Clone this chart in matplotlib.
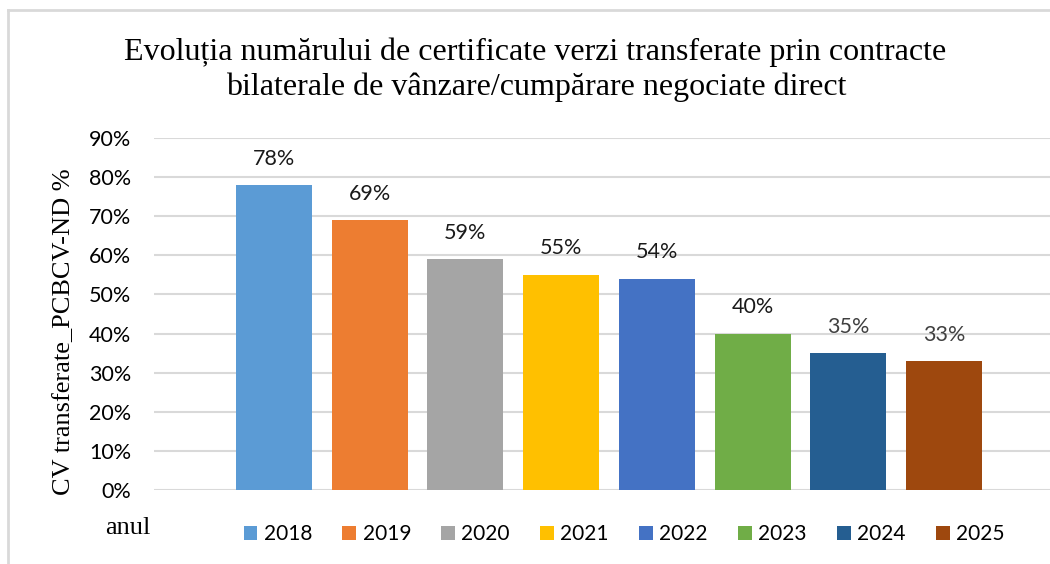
import matplotlib
matplotlib.use("Agg")
import matplotlib.pyplot as plt
from matplotlib.patches import Patch
from matplotlib.lines import Line2D
from matplotlib.ticker import FuncFormatter

# date
ani = ["2018", "2019", "2020", "2021", "2022", "2023", "2024", "2025"]
valori = [0.78, 0.69, 0.59, 0.55, 0.54, 0.40, 0.35, 0.33]
culori = ["#5B9BD5", "#ED7D31", "#A5A5A5", "#FFC000",
          "#4472C4", "#70AD47", "#255E91", "#9E480E"]
culori_etichete = ["#1a1a1a"] * 6 + ["#404040"] * 2

W, H = 1050, 564
fig = plt.figure(figsize=(W / 100, H / 100), dpi=100)
ax = fig.add_axes([154 / W, 1 - 490 / H, 1 - 154 / W, (490 - 138) / H])

x = list(range(len(ani)))
ax.bar(x, valori, width=0.794, color=culori, zorder=3)

for xi, v, c in zip(x, valori, culori_etichete):
    ax.annotate(f"{round(v * 100)}%", (xi, v), xytext=(0, 19), textcoords="offset points",
                ha="center", va="center", fontsize=15.5, family="Lato", color=c)

ax.set_ylim(0, 0.9)
ax.set_xlim(-1.254, 8.108)
ax.set_yticks([i / 10 for i in range(10)])
ax.yaxis.set_major_formatter(FuncFormatter(lambda v, p: f"{round(v * 100)}%"))
ax.set_xticks([])
ax.tick_params(axis="y", length=0, pad=16.5, labelsize=15.5)
for lab in ax.get_yticklabels():
    lab.set_family("Lato")
ax.grid(axis="y", color="#d9d9d9", linewidth=1.5, zorder=0)
for s in ax.spines.values():
    s.set_visible(False)

ax.set_ylabel("CV transferate_PCBCV-ND %", family="Liberation Serif", fontsize=19)
ax.yaxis.set_label_coords((75 - 154) / 896, (490 - 332) / 352)

fig.text(535 / W, 1 - 60 / H, "Evoluția numărului de certificate verzi transferate prin contracte",
         ha="center", va="baseline", family="Liberation Serif", fontsize=23)
fig.text(536 / W, 1 - 95 / H, "bilaterale de vânzare/cumpărare negociate direct",
         ha="center", va="baseline", family="Liberation Serif", fontsize=23)

fig.text(105 / W, 1 - 528 / H, "anul", family="Liberation Serif", fontsize=19, va="center", ha="left")

handles = [Patch(facecolor=c, edgecolor="none") for c in culori]
fig.legend(handles, ani, loc="center", bbox_to_anchor=(624 / W, 1 - 534 / H), ncol=8,
           frameon=False, prop={"family": "Lato", "size": 15},
           handlelength=0.67, handleheight=0.67, handletextpad=0.3, columnspacing=1.45,
           borderpad=0)

# chenar
fig.add_artist(Line2D([8 / W, 8 / W], [0, 1 - 10 / H], color="#d9d9d9", lw=2, transform=fig.transFigure))
fig.add_artist(Line2D([8 / W, 1], [1 - 10 / H, 1 - 10 / H], color="#d9d9d9", lw=2, transform=fig.transFigure))

fig.savefig("out.png", dpi=100)
